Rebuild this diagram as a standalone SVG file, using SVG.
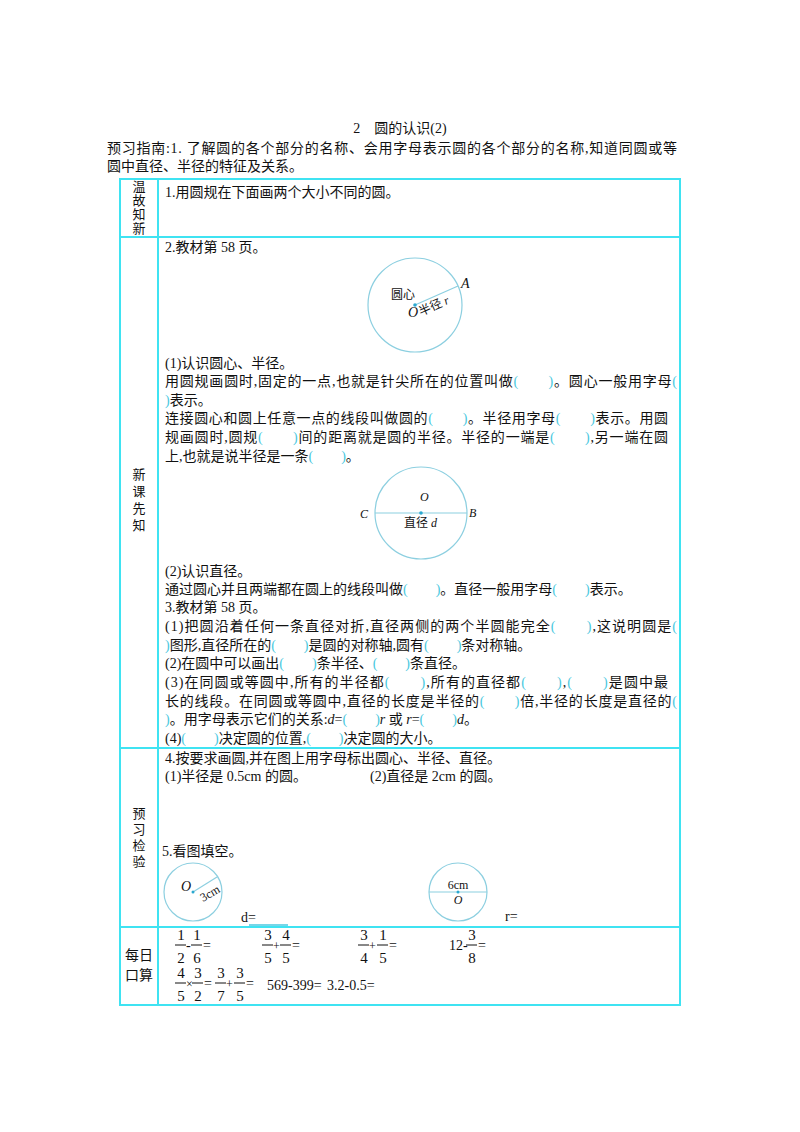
<svg xmlns="http://www.w3.org/2000/svg" width="800" height="1132" viewBox="0 0 800 1132">
<style>
text{font-family:"Liberation Serif","Noto Sans CJK SC",serif;font-size:14px;fill:#111}
.s{font-size:12px}
.b{fill:#49c8e0}
.lb{font-size:13px;text-anchor:middle}
.bd{stroke:#3fe3f2;stroke-width:2;fill:none}
.c{stroke:#8ccfe0;stroke-width:1.2;fill:none}
.i{font-style:italic}
.f{text-anchor:middle;font-size:15px}
</style>
<rect width="800" height="1132" fill="#fff"/>
<text x="400" y="133" text-anchor="middle">2　圆的认识(2)</text>
<text x="107" y="153" textLength="570">预习指南:1. 了解圆的各个部分的名称、会用字母表示圆的各个部分的名称,知道同圆或等</text>
<text x="107" y="171">圆中直径、半径的特征及关系。</text>
<g id="table">
<rect class="bd" x="120" y="179" width="560" height="826"/>
<line class="bd" x1="158" y1="179" x2="158" y2="1005"/>
<line class="bd" x1="120" y1="237" x2="680" y2="237"/>
<line class="bd" x1="120" y1="748" x2="680" y2="748"/>
<line class="bd" x1="120" y1="927" x2="680" y2="927"/>
</g>
<g id="labels">
<text class="lb" x="139" y="191">温</text><text class="lb" x="139" y="205">故</text><text class="lb" x="139" y="219">知</text><text class="lb" x="139" y="233">新</text>
<text class="lb" x="139" y="479">新</text><text class="lb" x="139" y="496">课</text><text class="lb" x="139" y="513">先</text><text class="lb" x="139" y="530">知</text>
<text class="lb" x="139" y="818">预</text><text class="lb" x="139" y="834">习</text><text class="lb" x="139" y="850">检</text><text class="lb" x="139" y="866">验</text>
<text x="139" y="960" text-anchor="middle">每日</text><text x="139" y="980" text-anchor="middle">口算</text>
</g>
<text x="165" y="197">1.用圆规在下面画两个大小不同的圆。</text>
<text x="165" y="252">2.教材第 58 页。</text>
<g id="circle1">
<circle class="c" cx="415" cy="305" r="47"/>
<line class="c" x1="415" y1="305" x2="458" y2="286"/>
<circle cx="415" cy="305" r="1.8" fill="#2aa8d0"/>
<text class="s" x="391" y="299">圆心</text>
<text class="i" x="408" y="317">O</text>
<text class="s" x="421" y="316" transform="rotate(-24 421 316)">半径 <tspan class="i">r</tspan></text>
<text class="i" x="461" y="288">A</text>
</g>
<text x="165" y="368">(1)认识圆心、半径。</text>
<text x="165" y="386" textLength="512">用圆规画圆时,固定的一点,也就是针尖所在的位置叫做<tspan class="b">(　　)</tspan>。圆心一般用字母<tspan class="b">(</tspan></text>
<text x="165" y="405"><tspan class="b">)</tspan>表示。</text>
<text x="165" y="423" textLength="503">连接圆心和圆上任意一点的线段叫做圆的<tspan class="b">(　　)</tspan>。半径用字母<tspan class="b">(　　)</tspan>表示。用圆</text>
<text x="165" y="442" textLength="503">规画圆时,圆规<tspan class="b">(　　)</tspan>间的距离就是圆的半径。半径的一端是<tspan class="b">(　　)</tspan>,另一端在圆</text>
<text x="165" y="461">上,也就是说半径是一条<tspan class="b">(　　)</tspan>。</text>
<g id="circle2">
<circle class="c" cx="421" cy="513" r="46"/>
<line class="c" x1="375" y1="513" x2="467" y2="513"/>
<circle cx="421" cy="513" r="1.8" fill="#2aa8d0"/>
<text class="i s" x="420" y="501">O</text>
<text class="i s" x="360" y="518">C</text>
<text class="i s" x="469" y="517">B</text>
<text class="s" x="404" y="527">直径 <tspan class="i">d</tspan></text>
</g>
<text x="165" y="576">(2)认识直径。</text>
<text x="165" y="594">通过圆心并且两端都在圆上的线段叫做<tspan class="b">(　　)</tspan>。直径一般用字母<tspan class="b">(　　)</tspan>表示。</text>
<text x="165" y="612">3.教材第 58 页。</text>
<text x="165" y="631" textLength="512">(1)把圆沿着任何一条直径对折,直径两侧的两个半圆能完全<tspan class="b">(　　)</tspan>,这说明圆是<tspan class="b">(</tspan></text>
<text x="165" y="650"><tspan class="b">)</tspan>图形,直径所在的<tspan class="b">(　　)</tspan>是圆的对称轴,圆有<tspan class="b">(　　)</tspan>条对称轴。</text>
<text x="165" y="668">(2)在圆中可以画出<tspan class="b">(　　)</tspan>条半径、<tspan class="b">(　　)</tspan>条直径。</text>
<text x="165" y="687" textLength="503">(3)在同圆或等圆中,所有的半径都<tspan class="b">(　　)</tspan>,所有的直径都<tspan class="b">(　　)</tspan>,<tspan class="b">(　　)</tspan>是圆中最</text>
<text x="165" y="706" textLength="512">长的线段。在同圆或等圆中,直径的长度是半径的<tspan class="b">(　　)</tspan>倍,半径的长度是直径的<tspan class="b">(</tspan></text>
<text x="165" y="724"><tspan class="b">)</tspan>。用字母表示它们的关系:<tspan class="i">d</tspan>=<tspan class="b">(　　)</tspan><tspan class="i">r</tspan> 或 <tspan class="i">r</tspan>=<tspan class="b">(　　)</tspan><tspan class="i">d</tspan>。</text>
<text x="165" y="743">(4)<tspan class="b">(　　)</tspan>决定圆的位置,<tspan class="b">(　　)</tspan>决定圆的大小。</text>
<text x="165" y="763">4.按要求画圆,并在图上用字母标出圆心、半径、直径。</text>
<text x="165" y="781">(1)半径是 0.5cm 的圆。</text>
<text x="370" y="781">(2)直径是 2cm 的圆。</text>
<text x="162" y="856">5.看图填空。</text>
<g id="circle3">
<circle class="c" cx="193" cy="892" r="29"/>
<line class="c" x1="193" y1="892" x2="217" y2="877"/>
<circle cx="193" cy="892" r="1.5" fill="#2aa8d0"/>
<text class="i" x="181" y="891">O</text>
<text class="s" x="203" y="902" transform="rotate(-30 203 902)">3cm</text>
</g>
<text x="241" y="922">d=</text>
<line x1="249" y1="925" x2="288" y2="925" stroke="#49c8e0" stroke-width="1.5"/>
<g id="circle4">
<circle class="c" cx="458" cy="892" r="29"/>
<line class="c" x1="429" y1="892" x2="487" y2="892"/>
<circle cx="458" cy="892" r="1.5" fill="#2aa8d0"/>
<text class="s" x="458" y="889" text-anchor="middle">6cm</text>
<text class="i s" x="458" y="904" text-anchor="middle">O</text>
</g>
<text x="505" y="921">r=</text>
<g id="arith" stroke="#111" stroke-width="1">
<line x1="175" y1="945" x2="186" y2="945"/><line x1="191" y1="945" x2="202" y2="945"/>
<line x1="262" y1="945" x2="273" y2="945"/><line x1="280" y1="945" x2="291" y2="945"/>
<line x1="358" y1="945" x2="369" y2="945"/><line x1="377" y1="945" x2="388" y2="945"/>
<line x1="466" y1="945" x2="477" y2="945"/>
<line x1="175" y1="983" x2="186" y2="983"/><line x1="192" y1="983" x2="203" y2="983"/>
<line x1="215" y1="983" x2="226" y2="983"/><line x1="234" y1="983" x2="245" y2="983"/>
</g>
<g id="arithtext">
<text class="f" x="181" y="940">1</text><text class="f" x="181" y="963">2</text><text x="186" y="950">-</text>
<text class="f" x="197" y="940">1</text><text class="f" x="197" y="963">6</text><text x="203" y="950">=</text>
<text class="f" x="268" y="940">3</text><text class="f" x="268" y="963">5</text><text x="273" y="950" class="s">+</text>
<text class="f" x="286" y="940">4</text><text class="f" x="286" y="963">5</text><text x="292" y="950">=</text>
<text class="f" x="364" y="940">3</text><text class="f" x="364" y="963">4</text><text x="369" y="950" class="s">+</text>
<text class="f" x="383" y="940">1</text><text class="f" x="383" y="963">5</text><text x="389" y="950">=</text>
<text x="449" y="950">12-</text>
<text class="f" x="472" y="940">3</text><text class="f" x="472" y="963">8</text><text x="478" y="950">=</text>
<text class="f" x="181" y="978">4</text><text class="f" x="181" y="1001">5</text><text x="186" y="988" class="s">×</text>
<text class="f" x="198" y="978">3</text><text class="f" x="198" y="1001">2</text><text x="204" y="988">=</text>
<text class="f" x="221" y="978">3</text><text class="f" x="221" y="1001">7</text><text x="226" y="988" class="s">+</text>
<text class="f" x="240" y="978">3</text><text class="f" x="240" y="1001">5</text><text x="246" y="988">=</text>
<text x="267" y="990">569-399=</text>
<text x="327" y="990">3.2-0.5=</text>
</g>
</svg>
